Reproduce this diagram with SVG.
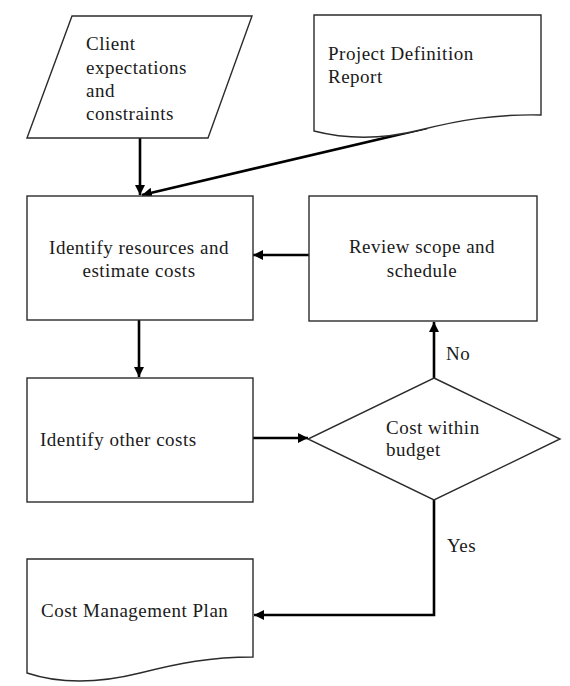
<svg xmlns="http://www.w3.org/2000/svg" width="570" height="686" viewBox="0 0 570 686">
<style>
.shape{fill:#fff;stroke:#2b2b2b;stroke-width:1.4}
.lbl{font-family:"Liberation Serif","Times New Roman",serif;font-size:19px;letter-spacing:0.5px;fill:#1a1a1a}
.mid{text-anchor:middle}
.conn{fill:none;stroke:#000;stroke-width:2.6}
</style>
<defs>
<marker id="ah" markerUnits="userSpaceOnUse" markerWidth="11" markerHeight="11" refX="10" refY="5" orient="auto">
<path d="M0,0 L10,5 L0,10 z" fill="#000"/>
</marker>
</defs>
<rect width="570" height="686" fill="#fff"/>
<g id="connectors">
<path class="conn" d="M140,138 V195" marker-end="url(#ah)"/>
<path class="conn" d="M427,128 L142,195" marker-end="url(#ah)"/>
<path class="conn" d="M309,255 H253" marker-end="url(#ah)"/>
<path class="conn" d="M139,320 V377" marker-end="url(#ah)"/>
<path class="conn" d="M253,438 H308" marker-end="url(#ah)"/>
<path class="conn" d="M434,378 V322" marker-end="url(#ah)"/>
<path class="conn" d="M434,500 V615 H254" marker-end="url(#ah)"/>
</g>
<g id="client">
<polygon class="shape" points="72,16 252,16 208,138 27,138"/>
<text class="lbl" x="86" y="50">Client</text>
<text class="lbl" x="86" y="74">expectations</text>
<text class="lbl" x="86" y="97">and</text>
<text class="lbl" x="86" y="120">constraints</text>
</g>
<g id="projectdef">
<path class="shape" d="M314,15 H541 V115 C495,114 460,120 420,130 C380,140 345,139 314,131 Z"/>
<text class="lbl" x="328" y="60">Project Definition</text>
<text class="lbl" x="328" y="83">Report</text>
</g>
<g id="identify">
<rect class="shape" x="27" y="196" width="226" height="124"/>
<text class="lbl mid" x="139" y="254">Identify resources and</text>
<text class="lbl mid" x="139" y="277">estimate costs</text>
</g>
<g id="review">
<rect class="shape" x="309" y="196" width="228" height="125"/>
<text class="lbl mid" x="422" y="253">Review scope and</text>
<text class="lbl mid" x="422" y="277">schedule</text>
</g>
<g id="other">
<rect class="shape" x="27" y="378" width="226" height="124"/>
<text class="lbl" x="40" y="446">Identify other costs</text>
</g>
<g id="decision">
<polygon class="shape" points="434,378 560,439 434,500 308,439"/>
<text class="lbl" x="386" y="434">Cost within</text>
<text class="lbl" x="386" y="456">budget</text>
</g>
<g id="plan">
<path class="shape" d="M27,559 H253 V657 C210,657 180,663 140,673 C100,683 60,684 27,673 Z"/>
<text class="lbl" x="41" y="617">Cost Management Plan</text>
</g>
<g id="edge-labels">
<text class="lbl" x="446" y="360">No</text>
<text class="lbl" x="447" y="552">Yes</text>
</g>
</svg>
